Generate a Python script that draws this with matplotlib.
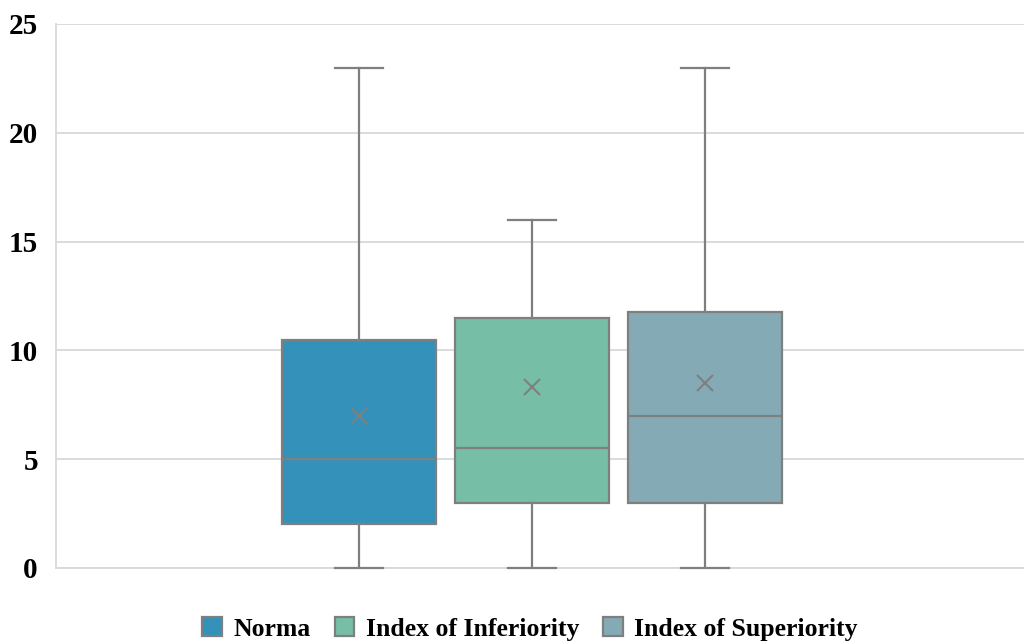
import matplotlib.pyplot as plt
import matplotlib.patches as mpatches

# Box plot summary stats
labels = ["Norma", "Index of Inferiority", "Index of Superiority"]
mins = [0, 0, 0]
q1s = [2, 3, 3]
medians = [5, 5.5, 7]
q3s = [10.5, 11.5, 11.75]
maxs = [23, 16, 23]
means = [7, 8.3, 8.5]
colors = ["#3491BA", "#76BFA6", "#84AAB5"]
yticks = [0, 5, 10, 15, 20, 25]

edge = "#7F7F7F"
grid_c = "#D9D9D9"

plt.rcParams["font.family"] = ["Liberation Serif", "DejaVu Serif"]
plt.rcParams["font.weight"] = "bold"

fig = plt.figure(figsize=(10.24, 6.42), dpi=100)
ax = fig.add_axes([56 / 1024, 74 / 642, 968 / 1024, 544 / 642])

stats = []
for i in range(len(labels)):
    stats.append({
        "label": labels[i], "whislo": mins[i], "q1": q1s[i], "med": medians[i],
        "q3": q3s[i], "whishi": maxs[i], "mean": means[i], "fliers": [],
    })

positions = [1, 2, 3]
bp = ax.bxp(stats, positions=positions, widths=0.885, capwidths=0.28,
            showmeans=True, patch_artist=True,
            boxprops=dict(edgecolor=edge, linewidth=1.6),
            medianprops=dict(color=edge, linewidth=1.6),
            whiskerprops=dict(color=edge, linewidth=1.6),
            capprops=dict(color=edge, linewidth=1.6),
            meanprops=dict(marker="x", markeredgecolor=edge, markersize=12,
                           markeredgewidth=1.5))
for patch, c in zip(bp["boxes"], colors):
    patch.set_facecolor(c)
    patch.set_zorder(2)
for cap in bp["caps"]:
    cap.set_zorder(4)
    cap.set_clip_on(False)

ax.set_xlim(-0.751, 4.844)
ax.set_ylim(0, 25)
ax.set_yticks(yticks)
ax.set_xticks([])
ax.yaxis.grid(True, color=grid_c, linewidth=1.3)
ax.set_axisbelow(True)
ax.tick_params(axis="y", length=0, pad=13, labelsize=21)
for s in ["top", "right"]:
    ax.spines[s].set_visible(False)
ax.spines["left"].set_color(grid_c)
ax.spines["bottom"].set_color(grid_c)
ax.spines["left"].set_linewidth(1.3)
ax.spines["bottom"].set_linewidth(1.3)

handles = [mpatches.Patch(facecolor=c, edgecolor=edge, linewidth=1.6, label=l)
           for c, l in zip(colors, labels)]
fig.legend(handles=handles, loc="center", bbox_to_anchor=(530 / 1024, 13 / 642),
           ncol=3, frameon=False, fontsize=18.5, handlelength=0.75, handleheight=0.75,
           handletextpad=0.45, columnspacing=0.95)

plt.savefig("out.png", dpi=100)
